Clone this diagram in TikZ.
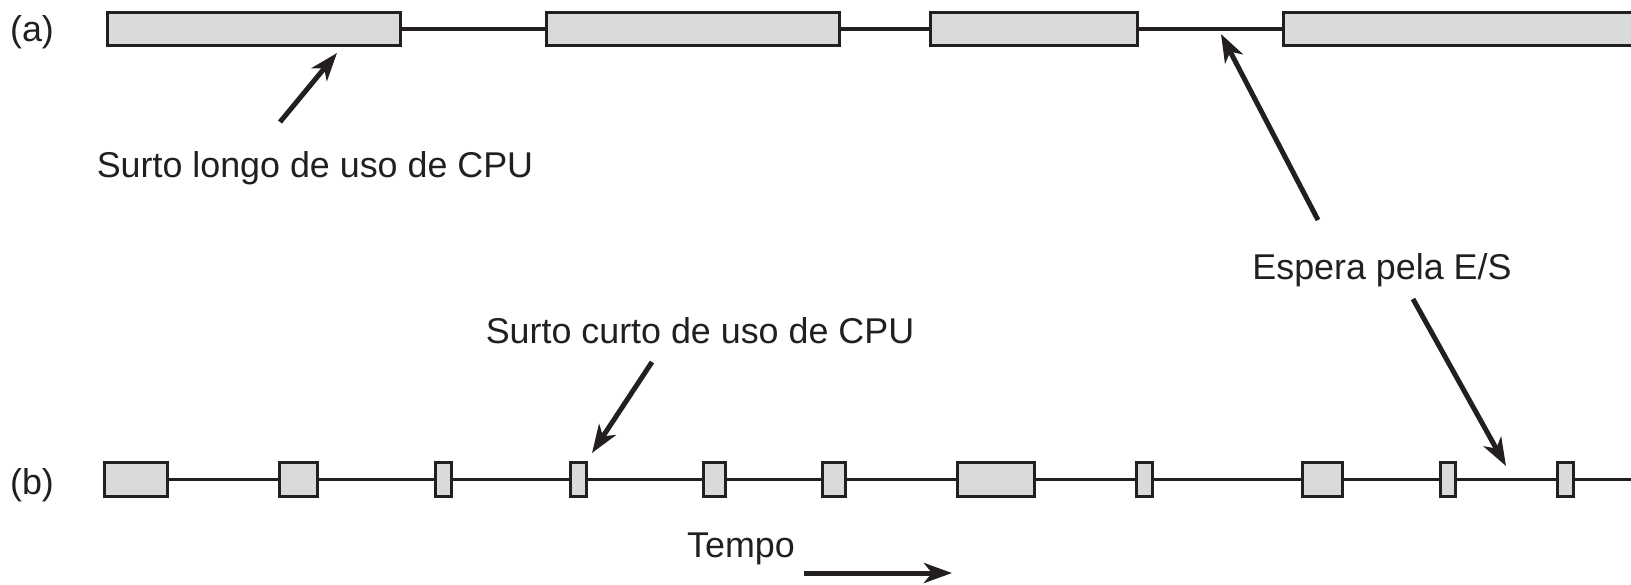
\documentclass[tikz,border=0pt]{standalone}
\usepackage{fontspec}
\setmainfont{Liberation Sans}
\usetikzlibrary{positioning,arrows.meta}
\definecolor{burstgray}{RGB}{217,218,220}
\definecolor{ink}{RGB}{35,31,32}

\begin{document}
\begin{tikzpicture}[x=0.1mm,y=-0.1mm,font=\fontsize{10.2}{12}\selectfont]
 	\tikzstyle{burst}=[rectangle, draw=ink, fill=burstgray, line width=0.38mm, inner sep=0mm, outer sep=0mm]
 	\tikzstyle{aburst}=[burst, minimum height=3.3mm]
 	\tikzstyle{bburst}=[burst, minimum height=3.4mm]
 	\tikzstyle{wait}=[draw=ink, line width=0.35mm]
 	\tikzstyle{connect}=[-{Stealth[length=2.8mm,width=2mm,inset=0.8mm]}, draw=ink, line width=0.5mm]
 	\tikzstyle{tag}=[inner sep=0mm, anchor=base, text=ink]
 	\useasboundingbox (0,0) rectangle (1631,584);
 	\clip (0,0) rectangle (1631,584);
 	% (a) long bursts
 	\node[aburst, minimum width=29.3mm] (a1) at (254,29) { };
 	\node[aburst, minimum width=29.3mm] (a2) [right=14.6mm of a1] { };
 	\node[aburst, minimum width=20.7mm] (a3) [right=9.1mm of a2] { };
 	\node[aburst, minimum width=40mm] (a4) [right=14.6mm of a3] { };
 	% (b) short bursts
 	\node[bburst, minimum width=6.3mm] (b1) at (136,479.5) { };
 	\node[bburst, minimum width=3.8mm] (b2) [right=11.2mm of b1] { };
 	\node[bburst, minimum width=1.6mm] (b3) [right=11.8mm of b2] { };
 	\node[bburst, minimum width=1.6mm] (b4) [right=11.9mm of b3] { };
 	\node[bburst, minimum width=2.2mm] (b5) [right=11.7mm of b4] { };
 	\node[bburst, minimum width=2.3mm] (b6) [right=9.7mm of b5] { };
 	\node[bburst, minimum width=7.7mm] (b7) [right=11.2mm of b6] { };
 	\node[bburst, minimum width=1.6mm] (b8) [right=10.2mm of b7] { };
 	\node[bburst, minimum width=4mm] (b9) [right=15mm of b8] { };
 	\node[bburst, minimum width=1.5mm] (b10) [right=9.8mm of b9] { };
 	\node[bburst, minimum width=1.6mm] (b11) [right=10.2mm of b10] { };
 	\coordinate (bout) at (1640,479.5);
 	\path (a1) edge [wait] (a2)
 	(a2) edge [wait] (a3)
 	(a3) edge [wait] (a4)
 	(b1) edge [wait] (b2)
 	(b2) edge [wait] (b3)
 	(b3) edge [wait] (b4)
 	(b4) edge [wait] (b5)
 	(b5) edge [wait] (b6)
 	(b6) edge [wait] (b7)
 	(b7) edge [wait] (b8)
 	(b8) edge [wait] (b9)
 	(b9) edge [wait] (b10)
 	(b10) edge [wait] (b11)
 	(b11) edge [wait] (bout);
 	% labels
 	\node[tag] (rowa) at (32,41) {(a)};
 	\node[tag] (rowb) at (32,494) {(b)};
 	\node[tag] (longlbl) at (315,177) {Surto longo de uso de CPU};
 	\node[tag] (shortlbl) at (700,343) {Surto curto de uso de CPU};
 	\node[tag] (waitlbl) at (1382,279) {Espera pela E/S};
 	\node[tag] (timelbl) at (741,557) {Tempo};
 	% arrows
 	\coordinate (longtail) at (280,122);
 	\coordinate (longtip) at (337,53);
 	\coordinate (shorttail) at (652,362);
 	\coordinate (shorttip) at (592,453);
 	\coordinate (waittaila) at (1318,220);
 	\coordinate (waittipa) at (1221,34);
 	\coordinate (waittailb) at (1413,299);
 	\coordinate (waittipb) at (1506,466);
 	\coordinate (timetail) at (804,573);
 	\coordinate (timetip) at (952,573);
 	\path (longtail) edge [connect] (longtip)
 	(shorttail) edge [connect] (shorttip)
 	(waittaila) edge [connect] (waittipa)
 	(waittailb) edge [connect] (waittipb)
 	(timetail) edge [connect] (timetip);
\end{tikzpicture}
\end{document}
